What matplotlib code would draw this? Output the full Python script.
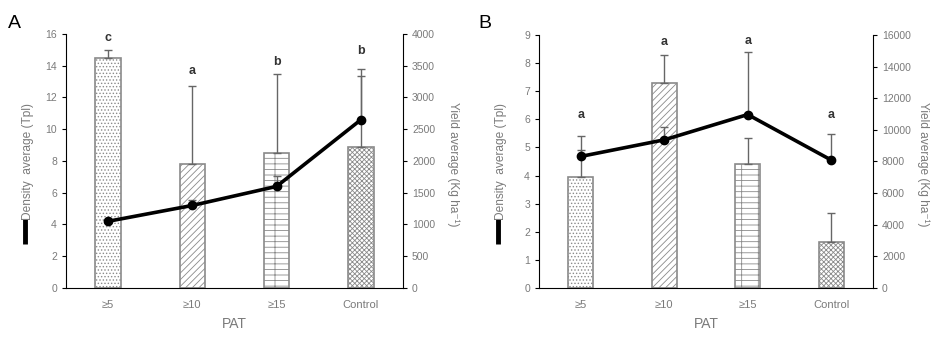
import matplotlib
matplotlib.use("Agg")
import matplotlib.pyplot as plt
from matplotlib.lines import Line2D

plt.rcParams["font.family"] = ["Liberation Sans", "DejaVu Sans"]
plt.rcParams["hatch.color"] = "#8a8a8a"
plt.rcParams["hatch.linewidth"] = 0.6

# =========================
# Data
# =========================
categories = ["≥5", "≥10", "≥15", "Control"]
hatches = [".....", "/////", "---|", "xxxxxxx"]

a_density = [14.5, 7.8, 8.5, 8.85]
a_density_err = [0.5, 4.9, 5.0, 4.5]
a_yield = [1050, 1300, 1600, 2650]
a_yield_err = [0, 80, 170, 800]
a_letters = ["c", "a", "b", "b"]
a_letter_y = [15.75, 13.7, 14.25, 14.95]

b_density = [3.95, 7.3, 4.4, 1.65]
b_density_err = [1.47, 1.0, 0.95, 1.0]
b_yield = [8320, 9370, 10970, 8090]
b_yield_err = [390, 800, 3930, 1630]
b_letters = ["a", "a", "a", "a"]
b_letter_y = [6.15, 8.75, 8.78, 6.15]

GRAY = "#7a7a7a"


def draw_panel(fig, rect, dens, dens_err, yld, yld_err, letters, letter_y,
               ymax, ystep, y2max, y2step, tag, tag_x, lab_x, rlab_x):
    ax = fig.add_axes(rect)
    x = list(range(len(categories)))
    bars = ax.bar(x, dens, width=0.3, color="white", edgecolor="#8a8a8a",
                  linewidth=1.2, zorder=2)
    for b, h in zip(bars, hatches):
        b.set_hatch(h)
    ax.errorbar(x, dens, yerr=[[0] * len(dens), dens_err], fmt="none",
                ecolor="#666666", elinewidth=1.0, capsize=3, capthick=1.0, zorder=3)
    for xi, ly, t in zip(x, letter_y, letters):
        ax.text(xi, ly, t, ha="center", va="center", fontsize=9,
                fontweight="bold", color="#333333")

    ax.set_xlim(-0.5, 3.5)
    ax.set_ylim(0, ymax)
    ax.set_yticks([i * ystep for i in range(int(round(ymax / ystep)) + 1)])
    ax.set_xticks(x)
    ax.set_xticklabels(categories)
    ax.tick_params(axis="x", length=0, pad=9, labelsize=8, labelcolor=GRAY)
    ax.tick_params(axis="y", direction="out", length=3, labelsize=7.5, labelcolor=GRAY)
    ax.spines["top"].set_visible(False)
    ax.spines["right"].set_visible(False)
    ax.set_xlabel("PAT", color=GRAY, fontsize=10, labelpad=5)

    ax2 = ax.twinx()
    ax2.plot(x, yld, color="black", lw=2.6, marker="o", markersize=6, zorder=4)
    ax2.errorbar(x, yld, yerr=[[0] * len(yld), yld_err], fmt="none",
                 ecolor="#666666", elinewidth=1.0, capsize=3, capthick=1.0, zorder=3)
    ax2.set_ylim(0, y2max)
    ax2.set_yticks([i * y2step for i in range(int(round(y2max / y2step)) + 1)])
    ax2.tick_params(axis="y", direction="out", length=3, labelsize=7.5, labelcolor=GRAY)
    ax2.spines["top"].set_visible(False)
    ax2.spines["left"].set_visible(False)
    ax2.spines["bottom"].set_visible(False)

    W, H = 941, 338
    fig.text(tag_x / W, 1 - 24 / H, tag, fontsize=14, ha="left", va="center")
    fig.text(lab_x / W, 1 - 162 / H, "Density  average (Tpl)", rotation=90,
             ha="center", va="center", fontsize=8.6, color=GRAY)
    fig.add_artist(Line2D([(lab_x - 3) / W] * 2, [1 - 219 / H, 1 - 244 / H],
                          color="black", lw=3.5, solid_capstyle="butt"))
    fig.text(rlab_x / W, 1 - 164 / H, "Yield average (Kg ha⁻¹)", rotation=270,
             ha="center", va="center", fontsize=8.6, color=GRAY)
    return ax, ax2


fig = plt.figure(figsize=(9.41, 3.38), dpi=100)
draw_panel(fig, [0.0701, 0.148, 0.3582, 0.7514], a_density, a_density_err,
           a_yield, a_yield_err, a_letters, a_letter_y,
           16, 2, 4000, 500, "A", 8, 28, 453)
draw_panel(fig, [0.5728, 0.148, 0.3549, 0.7484], b_density, b_density_err,
           b_yield, b_yield_err, b_letters, b_letter_y,
           9, 1, 16000, 2000, "B", 478, 501, 923)
plt.savefig("out.png", dpi=100)
plt.close()
